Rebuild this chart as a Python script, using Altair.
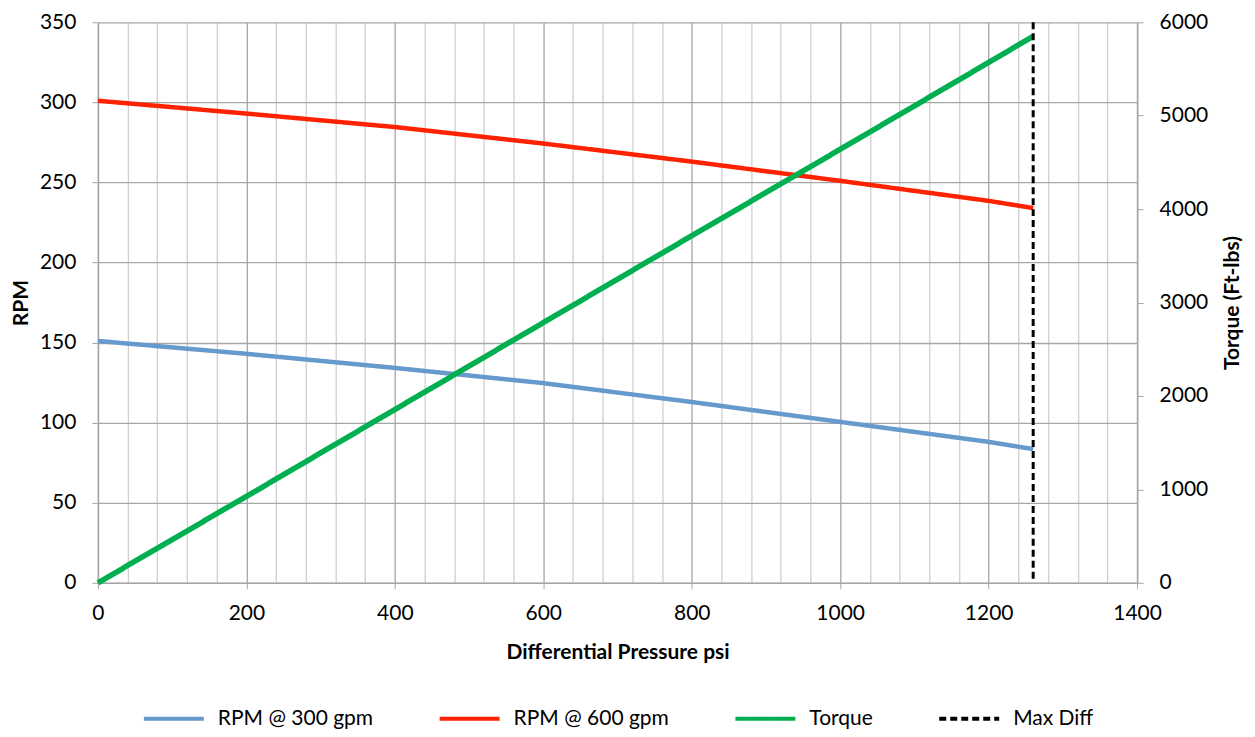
import altair as alt
import pandas as pd

# ---- data ----
pressure = [0, 200, 400, 600, 800, 1000, 1200, 1260]
rpm_300 = [151, 143, 134.2, 124.7, 112.9, 100.5, 88, 83.5]
rpm_600 = [301, 293, 284.6, 274.3, 263, 251, 238.5, 234]
torque = [0, 925, 1855, 2785, 3715, 4640, 5570, 5850]
max_diff_psi = [1260]

series_names = ["RPM @ 300 gpm", "RPM @ 600 gpm", "Torque", "Max Diff"]
series_colors = ["#6699CC", "#FF2200", "#00B050", "#000000"]
series_dash = [[1, 0], [1, 0], [1, 0], [7, 4]]

x_ticks = list(range(0, 1401, 40))
rpm_ticks = list(range(0, 351, 50))
torque_ticks = list(range(0, 6001, 1000))

rpm_df = pd.DataFrame({
    "p": pressure + pressure,
    "rpm": rpm_300 + rpm_600,
    "series": [series_names[0]] * len(pressure) + [series_names[1]] * len(pressure),
})
torque_df = pd.DataFrame({"p": pressure, "torque": torque, "series": series_names[2]})
max_df = pd.DataFrame({"p": max_diff_psi, "series": [series_names[3]]})

FONT = "Lato"
MAJOR = "#A6A6A6"
MINOR = "#D0D0D0"

leg = dict(
    orient="none", legendX=44, legendY=665, direction="horizontal", title=None,
    symbolType="stroke", symbolSize=3600, symbolStrokeWidth=4,
    labelFontSize=21, labelFont=FONT, labelColor="black",
    columnPadding=58, labelOffset=12, labelLimit=300,
)

color = alt.Color("series:N", scale=alt.Scale(domain=series_names, range=series_colors),
                  legend=alt.Legend(**leg))
dash = alt.StrokeDash("series:N", scale=alt.Scale(domain=series_names, range=series_dash),
                      legend=alt.Legend(**leg))

x_enc = alt.X(
    "p:Q",
    scale=alt.Scale(domain=[0, 1400], nice=False, zero=False),
    axis=alt.Axis(
        title="Differential Pressure psi",
        values=x_ticks,
        labelExpr="datum.value % 200 === 0 ? datum.label : ''",
        grid=True,
        gridColor={"condition": {"test": "datum.value % 200 === 0", "value": MAJOR}, "value": MINOR},
        gridWidth=1.3,
        tickOpacity={"condition": {"test": "datum.value % 200 === 0", "value": 1}, "value": 0},
        tickSize=6, tickColor=MAJOR, domainColor=MAJOR, domainWidth=1.5,
        labelPadding=14, titlePadding=18, format="d", labelFlush=False,
    ),
)

rpm_layer = alt.Chart(rpm_df).mark_line(strokeWidth=4.5).encode(
    x=x_enc,
    y=alt.Y("rpm:Q", scale=alt.Scale(domain=[0, 350], nice=False),
            axis=alt.Axis(title="RPM", values=rpm_ticks, orient="left", grid=True,
                          gridColor=MAJOR, gridWidth=1.3, tickSize=6, tickColor=MAJOR,
                          domainColor=MAJOR, domainWidth=1.5, labelPadding=16,
                          titlePadding=8, format="d")),
    color=color, strokeDash=dash,
)

torque_layer = alt.Chart(torque_df).mark_line(strokeWidth=5.5).encode(
    x=x_enc,
    y=alt.Y("torque:Q", scale=alt.Scale(domain=[0, 6000], nice=False),
            axis=alt.Axis(title="Torque (Ft-lbs)", values=torque_ticks, orient="right", grid=False,
                          tickSize=6, tickColor=MAJOR, domainColor=MAJOR, domainWidth=1.5,
                          labelPadding=16, titlePadding=14, titleAngle=270,
                          titleBaseline="top", format="d")),
    color=color, strokeDash=dash,
)

max_layer = alt.Chart(max_df).mark_rule(strokeWidth=3).encode(
    x=x_enc, color=color, strokeDash=dash,
)

chart = alt.layer(rpm_layer, torque_layer, max_layer).resolve_scale(
    y="independent"
).properties(
    width=1040, height=561,
    padding={"left": 90, "top": 14, "right": 110, "bottom": 150},
    autosize=alt.AutoSizeParams(type="none"),
).configure(font=FONT).configure_axis(
    labelFont=FONT, labelFontSize=21, labelColor="black",
    titleFont=FONT, titleFontSize=21, titleFontWeight="bold", titleColor="black",
).configure_view(stroke=None)

chart.save("out.html", embed_options={"renderer": "svg", "actions": False})
